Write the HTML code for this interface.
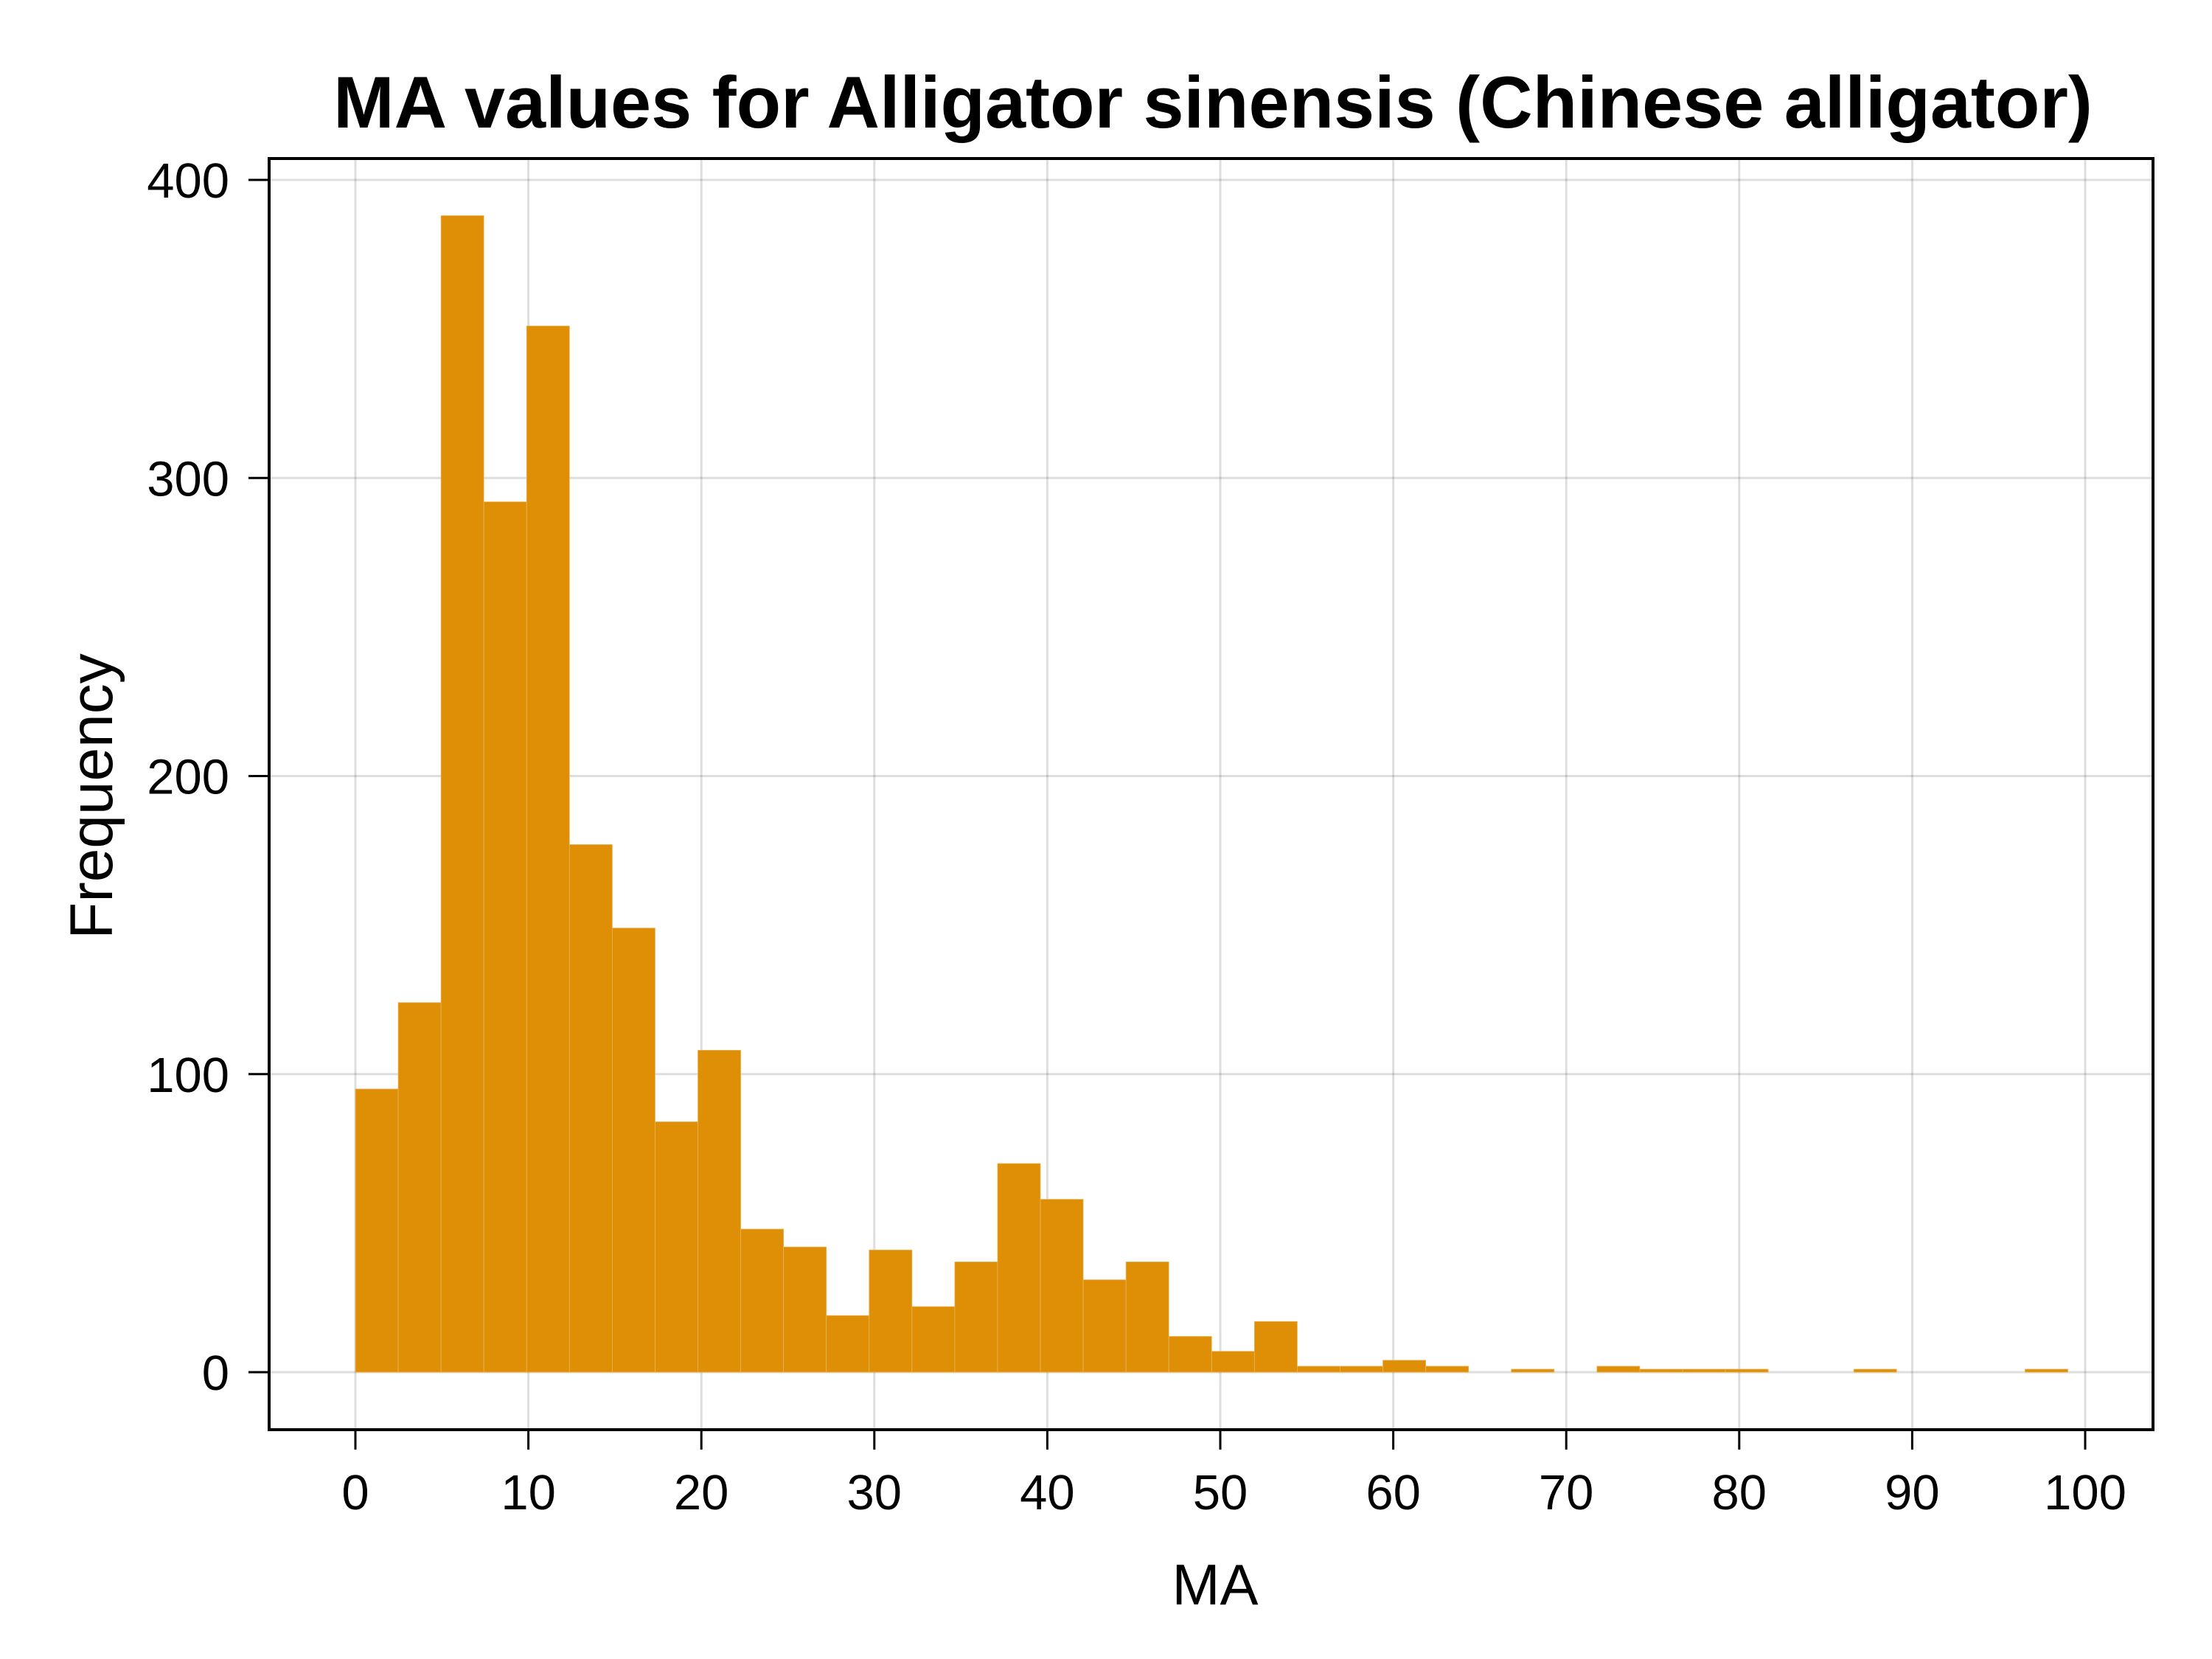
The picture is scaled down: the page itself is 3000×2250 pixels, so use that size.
<!DOCTYPE html>
<html><head><meta charset="utf-8"><style>
html,body{margin:0;padding:0;background:#fff;}
svg{display:block;font-family:"Liberation Sans",sans-serif;}
</style></head><body>
<svg id="chart" width="3000" height="2250" viewBox="0 0 3000 2250" xmlns="http://www.w3.org/2000/svg">
<rect width="3000" height="2250" fill="#fff"/>
<text x="1645" y="173" font-size="99" font-weight="bold" text-anchor="middle">MA values for Alligator sinensis (Chinese alligator)</text>
<g id="grid"></g>
<g id="bars"></g>
<g id="axes"></g>
<text x="1648" y="2176" font-size="78" text-anchor="middle">MA</text>
<text transform="translate(152,1080) rotate(-90)" font-size="82" text-anchor="middle">Frequency</text>
</svg>
<script>
const binWidth = 2.475;
const counts = [95,124,388,292,351,177,149,84,108,48,42,19,41,22,37,70,58,31,37,12,7,17,2,2,4,2,0,1,0,2,1,1,1,0,0,1,0,0,0,1];
const xTicks = [0,10,20,30,40,50,60,70,80,90,100];
const yTicks = [0,100,200,300,400];

const L=365,R=2920,T=215,B=1939;
const xs = v => 482 + v*23.46;
const ys = v => 1861 - v*4.0425;
const NS="http://www.w3.org/2000/svg";
function mk(tag, attrs, parent){const e=document.createElementNS(NS,tag);for(const k in attrs)e.setAttribute(k,attrs[k]);parent.appendChild(e);return e;}
const grid=document.getElementById('grid'),bars=document.getElementById('bars'),axes=document.getElementById('axes');

xTicks.forEach(t=>{
  const g=mk('line',{x1:xs(t),x2:xs(t),y1:T,y2:B,stroke:'#000','stroke-opacity':0.13,'stroke-width':3},grid);
  
  
  const tk=mk('line',{x1:xs(t),x2:xs(t),y1:B,y2:B+27,stroke:'#000','stroke-width':3},axes);
  
  
  const lb=mk('text',{x:xs(t),y:2047,'font-size':67,'text-anchor':'middle'},axes);
  lb.textContent=t;
  
  
});
yTicks.forEach(t=>{
  const g=mk('line',{x1:L,x2:R,y1:ys(t),y2:ys(t),stroke:'#000','stroke-opacity':0.13,'stroke-width':3},grid);
  
  
  const tk=mk('line',{x1:L-28,x2:L,y1:ys(t),y2:ys(t),stroke:'#000','stroke-width':3},axes);
  
  
  const lb=mk('text',{x:311,y:ys(t)+24,'font-size':67,'text-anchor':'end'},axes);
  lb.textContent=t;
  
  
});
counts.forEach((c,i)=>{
  if(c<=0) return;
  const x0=xs(i*binWidth),x1=xs((i+1)*binWidth);
  const r=mk('rect',{x:x0,y:ys(c),width:x1-x0,height:ys(0)-ys(c),fill:'#df8f06',stroke:'#e9b45a','stroke-width':0.8},bars);
  
  
});
const frame=mk('rect',{x:L,y:T,width:R-L,height:B-T,fill:'none',stroke:'#000','stroke-width':4},axes);


</script>
</body></html>
